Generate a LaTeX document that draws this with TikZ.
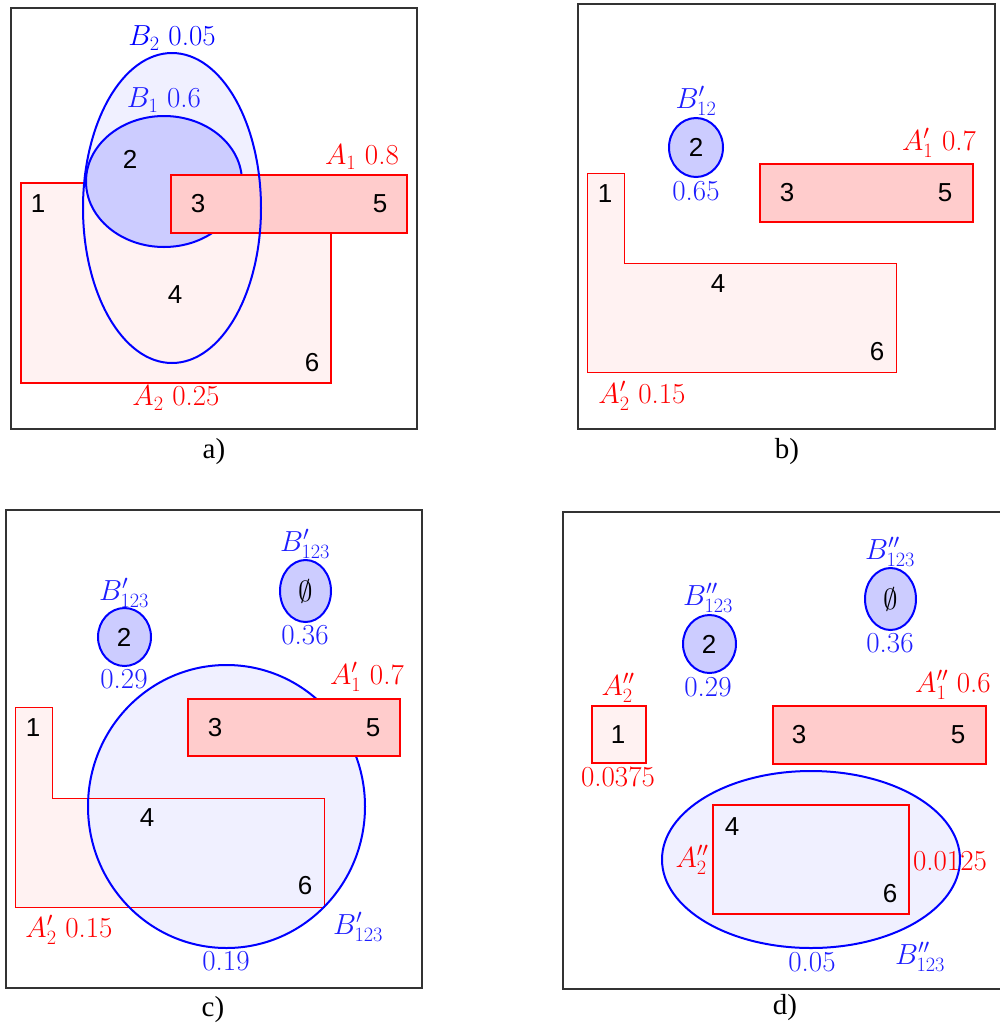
\RequirePackage{fix-cm}
\documentclass[tikz,border=0pt]{standalone}
\usepackage{fontspec}
\newfontfamily\numfont{Liberation Sans}
\newfontfamily\capfont{Liberation Serif}
\definecolor{bfill}{RGB}{204,204,255}
\definecolor{lbfill}{RGB}{240,240,255}
\definecolor{rfill}{RGB}{255,204,204}
\definecolor{lrfill}{RGB}{255,242,242}
\definecolor{lblue}{RGB}{30,30,255}
\begin{document}
\begin{tikzpicture}[x=1pt,y=-1pt,
  frame/.style={draw=black!80,line width=1.2pt},
  bline/.style={draw=blue,line width=2pt},
  rline/.style={draw=red,line width=2pt},
  thinr/.style={draw=red,line width=1pt},
  num/.style={font=\fontsize{26}{30}\numfont, inner sep=0pt},
  lab/.style={font=\fontsize{29}{34}\selectfont, inner sep=0pt},
  blab/.style={lab,text=lblue},
  rlab/.style={lab,text=red},
  captext/.style={font=\fontsize{29}{34}\capfont, inner sep=0pt}]
\useasboundingbox (0,0) rectangle (1000,1026);
\fill[white] (0,0) rectangle (1000,1026);

% ---------------- panel a ----------------
\draw[frame] (11,8) rectangle (417,429);
\fill[lbfill] (172,208) ellipse [x radius=89, y radius=155];
\filldraw[fill=lrfill, rline] (21,183) rectangle (331,383);
\filldraw[fill=bfill, bline] (164,181.5) ellipse [x radius=78, y radius=65.5];
\filldraw[fill=rfill, rline] (171,175) rectangle (407,233);
\draw[bline] (172,208) ellipse [x radius=89, y radius=155];
\node[lab,text=blue] (aB2) at (172,38) {$B_2$ 0.05};
\node[blab] (aB1) at (164,100) {$B_1$ 0.6};
\node[rlab] (aA1) at (362,157) {$A_1$ 0.8};
\node[rlab] (aA2) at (176,398) {$A_2$ 0.25};
\node[num] (a1) at (38,204) {1};
\node[num] (a2) at (130,159) {2};
\node[num] (a3) at (198,204) {3};
\node[num] (a5) at (380,204) {5};
\node[num] (a4) at (175,295) {4};
\node[num] (a6) at (312,363) {6};
\node[captext] (capa) at (214,452) {a)};

% ---------------- panel b ----------------
\draw[frame] (578,4) rectangle (995,429);
\filldraw[fill=lrfill, thinr] (587,173) -- (624,173) -- (624,263) -- (896,263) -- (896,372) -- (587,372) -- cycle;
\filldraw[fill=bfill, bline] (696,147.5) ellipse [x radius=27, y radius=29.5];
\filldraw[fill=rfill, rline] (760,164) rectangle (973,222);
\node[blab] (bB12) at (696,101) {$B'_{12}$};
\node[blab] (b065) at (696,191) {0.65};
\node[rlab] (bA1) at (939,143) {$A'_1$ 0.7};
\node[rlab] (bA2) at (642,396) {$A'_2$ 0.15};
\node[num] (b1) at (605,194) {1};
\node[num] (b2) at (696,147) {2};
\node[num] (b3) at (787,193) {3};
\node[num] (b5) at (945,193) {5};
\node[num] (b4) at (718,284) {4};
\node[num] (b6) at (877,352) {6};
\node[captext] (capb) at (787,452) {b)};

% ---------------- panel c ----------------
\draw[frame] (6,510) rectangle (422,988);
\fill[lrfill] (15,707) -- (52,707) -- (52,798) -- (324,798) -- (324,907) -- (15,907) -- cycle;
\fill[lbfill] (226.5,806.5) ellipse [x radius=138.5, y radius=141.5];
\draw[thinr] (15,707) -- (52,707) -- (52,798) -- (324,798) -- (324,907) -- (15,907) -- cycle;
\draw[bline] (226.5,806.5) ellipse [x radius=138.5, y radius=141.5];
\filldraw[fill=rfill, rline] (188,699) rectangle (400,756);
\filldraw[fill=bfill, bline] (124.5,637) ellipse [x radius=26.5, y radius=29];
\filldraw[fill=bfill, bline] (305.5,591) ellipse [x radius=25.5, y radius=31];
\node[blab] (cB1) at (124,593) {$B'_{123}$};
\node[blab] (c029) at (124,679) {0.29};
\node[blab] (cB2) at (305,544) {$B'_{123}$};
\node[blab] (c036) at (305,635) {0.36};
\node[rlab] (cA1) at (367,677) {$A'_1$ 0.7};
\node[rlab] (cA2) at (69,930) {$A'_2$ 0.15};
\node[blab] (cB3) at (358,927) {$B'_{123}$};
\node[blab] (c019) at (226,961) {0.19};
\node[num] (c1) at (33,728) {1};
\node[num] (c2) at (124,637) {2};
\node[lab] (c0) at (305.5,591) {$\emptyset$};
\node[num] (c3) at (215,728) {3};
\node[num] (c5) at (373,728) {5};
\node[num] (c4) at (147,818) {4};
\node[num] (c6) at (305,886) {6};
\node[captext] (capc) at (213,1010) {c)};

% ---------------- panel d ----------------
\draw[frame] (563,512) rectangle (1003,989);
\filldraw[fill=lrfill, rline] (592,706) rectangle (646,763);
\filldraw[fill=rfill, rline] (773,706) rectangle (986,764);
\fill[lbfill] (811,859.5) ellipse [x radius=149, y radius=88.5];
\draw[rline] (713,805) rectangle (909,914);
\node[rlab] (d0125) at (950,861) {0.0125};
\draw[bline] (811,859.5) ellipse [x radius=149, y radius=88.5];
\filldraw[fill=bfill, bline] (709.5,644) ellipse [x radius=26.5, y radius=29];
\filldraw[fill=bfill, bline] (890.5,599) ellipse [x radius=25.5, y radius=31];
\node[blab] (dB1) at (708,598) {$B''_{123}$};
\node[blab] (d029) at (708,687) {0.29};
\node[blab] (dB2) at (890,552) {$B''_{123}$};
\node[blab] (d036) at (890,643) {0.36};
\node[rlab] (dA2a) at (618,688) {$A''_2$};
\node[rlab] (d0375) at (618,777) {0.0375};
\node[rlab] (dA1) at (953,685) {$A''_1$ 0.6};
\node[rlab] (dA2b) at (692,860) {$A''_2$};
\node[blab] (d005) at (812,962) {0.05};
\node[blab] (dB3) at (920,957) {$B''_{123}$};
\node[num] (d1) at (618,735) {1};
\node[num] (d2) at (709,644) {2};
\node[lab] (d0) at (890.5,599) {$\emptyset$};
\node[num] (d3) at (799,735) {3};
\node[num] (d5) at (958,735) {5};
\node[num] (d4) at (732,827) {4};
\node[num] (d6) at (890,894) {6};
\node[captext] (capd) at (785,1008) {d)};
\end{tikzpicture}
\end{document}
